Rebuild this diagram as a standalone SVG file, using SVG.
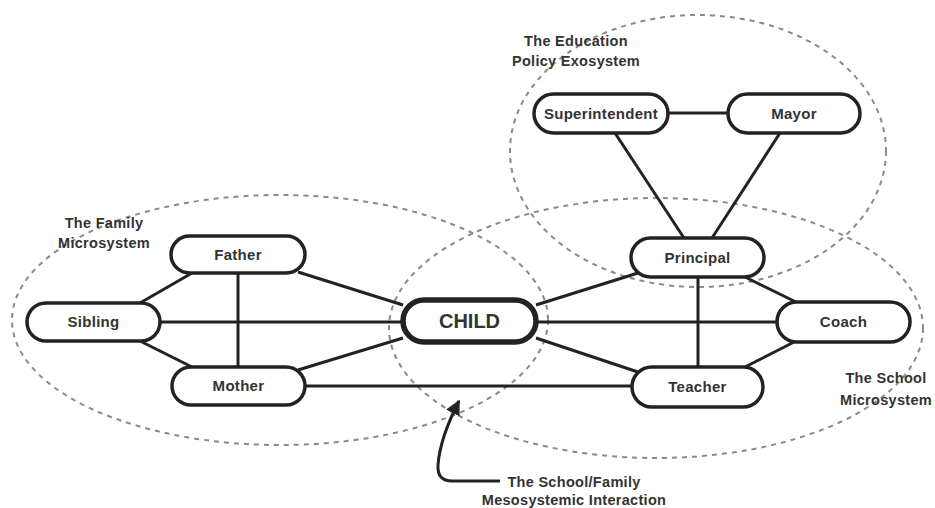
<svg xmlns="http://www.w3.org/2000/svg" width="935" height="508" viewBox="0 0 935 508">
<style>
.bg{fill:#fff}
.sys{fill:none;stroke:#8a8a8a;stroke-width:2;stroke-dasharray:5 5}
.edge{stroke:#222;stroke-width:3;fill:none}
.node{fill:#fff;stroke:#222;stroke-width:3.5}
.child{fill:#fff;stroke:#222;stroke-width:5.5}
.t{font-family:"Liberation Sans",Arial,sans-serif;font-weight:bold;font-size:15px;fill:#333;text-anchor:middle;letter-spacing:0.3px}
.ct{font-family:"Liberation Sans",Arial,sans-serif;font-weight:bold;font-size:20px;fill:#333;text-anchor:middle}
.lab{font-family:"Liberation Sans",Arial,sans-serif;font-weight:bold;font-size:14.5px;fill:#333;text-anchor:middle;letter-spacing:0.3px}
</style>
<defs>
<marker id="ah" viewBox="0 0 10 10" refX="9" refY="5" markerWidth="5" markerHeight="5" orient="auto" markerUnits="strokeWidth">
<path d="M0,0 L10,5 L0,10 z" fill="#222"/>
</marker>
</defs>
<rect class="bg" width="935" height="508"/>
<g id="systems">
<ellipse class="sys" cx="280" cy="320" rx="268" ry="125"/>
<ellipse class="sys" cx="656" cy="328" rx="267" ry="130"/>
<ellipse class="sys" cx="698" cy="151" rx="188" ry="136"/>
</g>
<g id="connectors">
<line class="edge" x1="192" y1="273" x2="140" y2="303"/>
<line class="edge" x1="140" y1="341" x2="192" y2="367"/>
<line class="edge" x1="238" y1="273" x2="238" y2="367"/>
<line class="edge" x1="298" y1="272" x2="403" y2="305"/>
<line class="edge" x1="160" y1="322" x2="403" y2="322"/>
<line class="edge" x1="298" y1="370" x2="403" y2="338"/>
<line class="edge" x1="305" y1="386" x2="632" y2="386"/>
<line class="edge" x1="536" y1="305" x2="638" y2="273"/>
<line class="edge" x1="536" y1="322" x2="777" y2="322"/>
<line class="edge" x1="536" y1="338" x2="638" y2="372"/>
<line class="edge" x1="698" y1="277" x2="698" y2="367"/>
<line class="edge" x1="743" y1="276" x2="798" y2="303"/>
<line class="edge" x1="796" y1="341" x2="745" y2="367"/>
<line class="edge" x1="668" y1="113" x2="728" y2="113"/>
<line class="edge" x1="615" y1="133" x2="684" y2="238"/>
<line class="edge" x1="780" y1="133" x2="712" y2="238"/>
<path class="edge" d="M500 481 L452 481 Q437 481 438 465 Q440 438 459 401" stroke-width="2.5" marker-end="url(#ah)"/>
</g>
<g id="father"><rect class="node" x="171" y="236" width="134" height="37" rx="18.5"/><text class="t" x="238" y="260">Father</text></g>
<g id="sibling"><rect class="node" x="27" y="303" width="133" height="38" rx="19"/><text class="t" x="93.5" y="327">Sibling</text></g>
<g id="mother"><rect class="node" x="172" y="367" width="133" height="38" rx="19"/><text class="t" x="238.5" y="391">Mother</text></g>
<g id="child"><rect class="child" x="403" y="300" width="133" height="42" rx="21"/><text class="ct" x="469.5" y="328">CHILD</text></g>
<g id="superintendent"><rect class="node" x="534" y="94" width="134" height="39" rx="19.5"/><text class="t" x="601" y="119">Superintendent</text></g>
<g id="mayor"><rect class="node" x="728" y="94" width="132" height="39" rx="19.5"/><text class="t" x="794" y="119">Mayor</text></g>
<g id="principal"><rect class="node" x="631" y="238" width="133" height="39" rx="19.5"/><text class="t" x="697.5" y="263">Principal</text></g>
<g id="coach"><rect class="node" x="777" y="302" width="133" height="40" rx="20"/><text class="t" x="843.5" y="327">Coach</text></g>
<g id="teacher"><rect class="node" x="632" y="367" width="131" height="40" rx="20"/><text class="t" x="697.5" y="392">Teacher</text></g>
<g id="labels">
<text class="lab" x="104" y="228">The Family</text>
<text class="lab" x="104" y="248">Microsystem</text>
<text class="lab" x="576" y="46">The Education</text>
<text class="lab" x="576" y="66">Policy Exosystem</text>
<text class="lab" x="886" y="383">The School</text>
<text class="lab" x="886" y="405">Microsystem</text>
<text class="lab" x="574" y="487">The School/Family</text>
<text class="lab" x="574" y="505">Mesosystemic Interaction</text>
</g>
</svg>
